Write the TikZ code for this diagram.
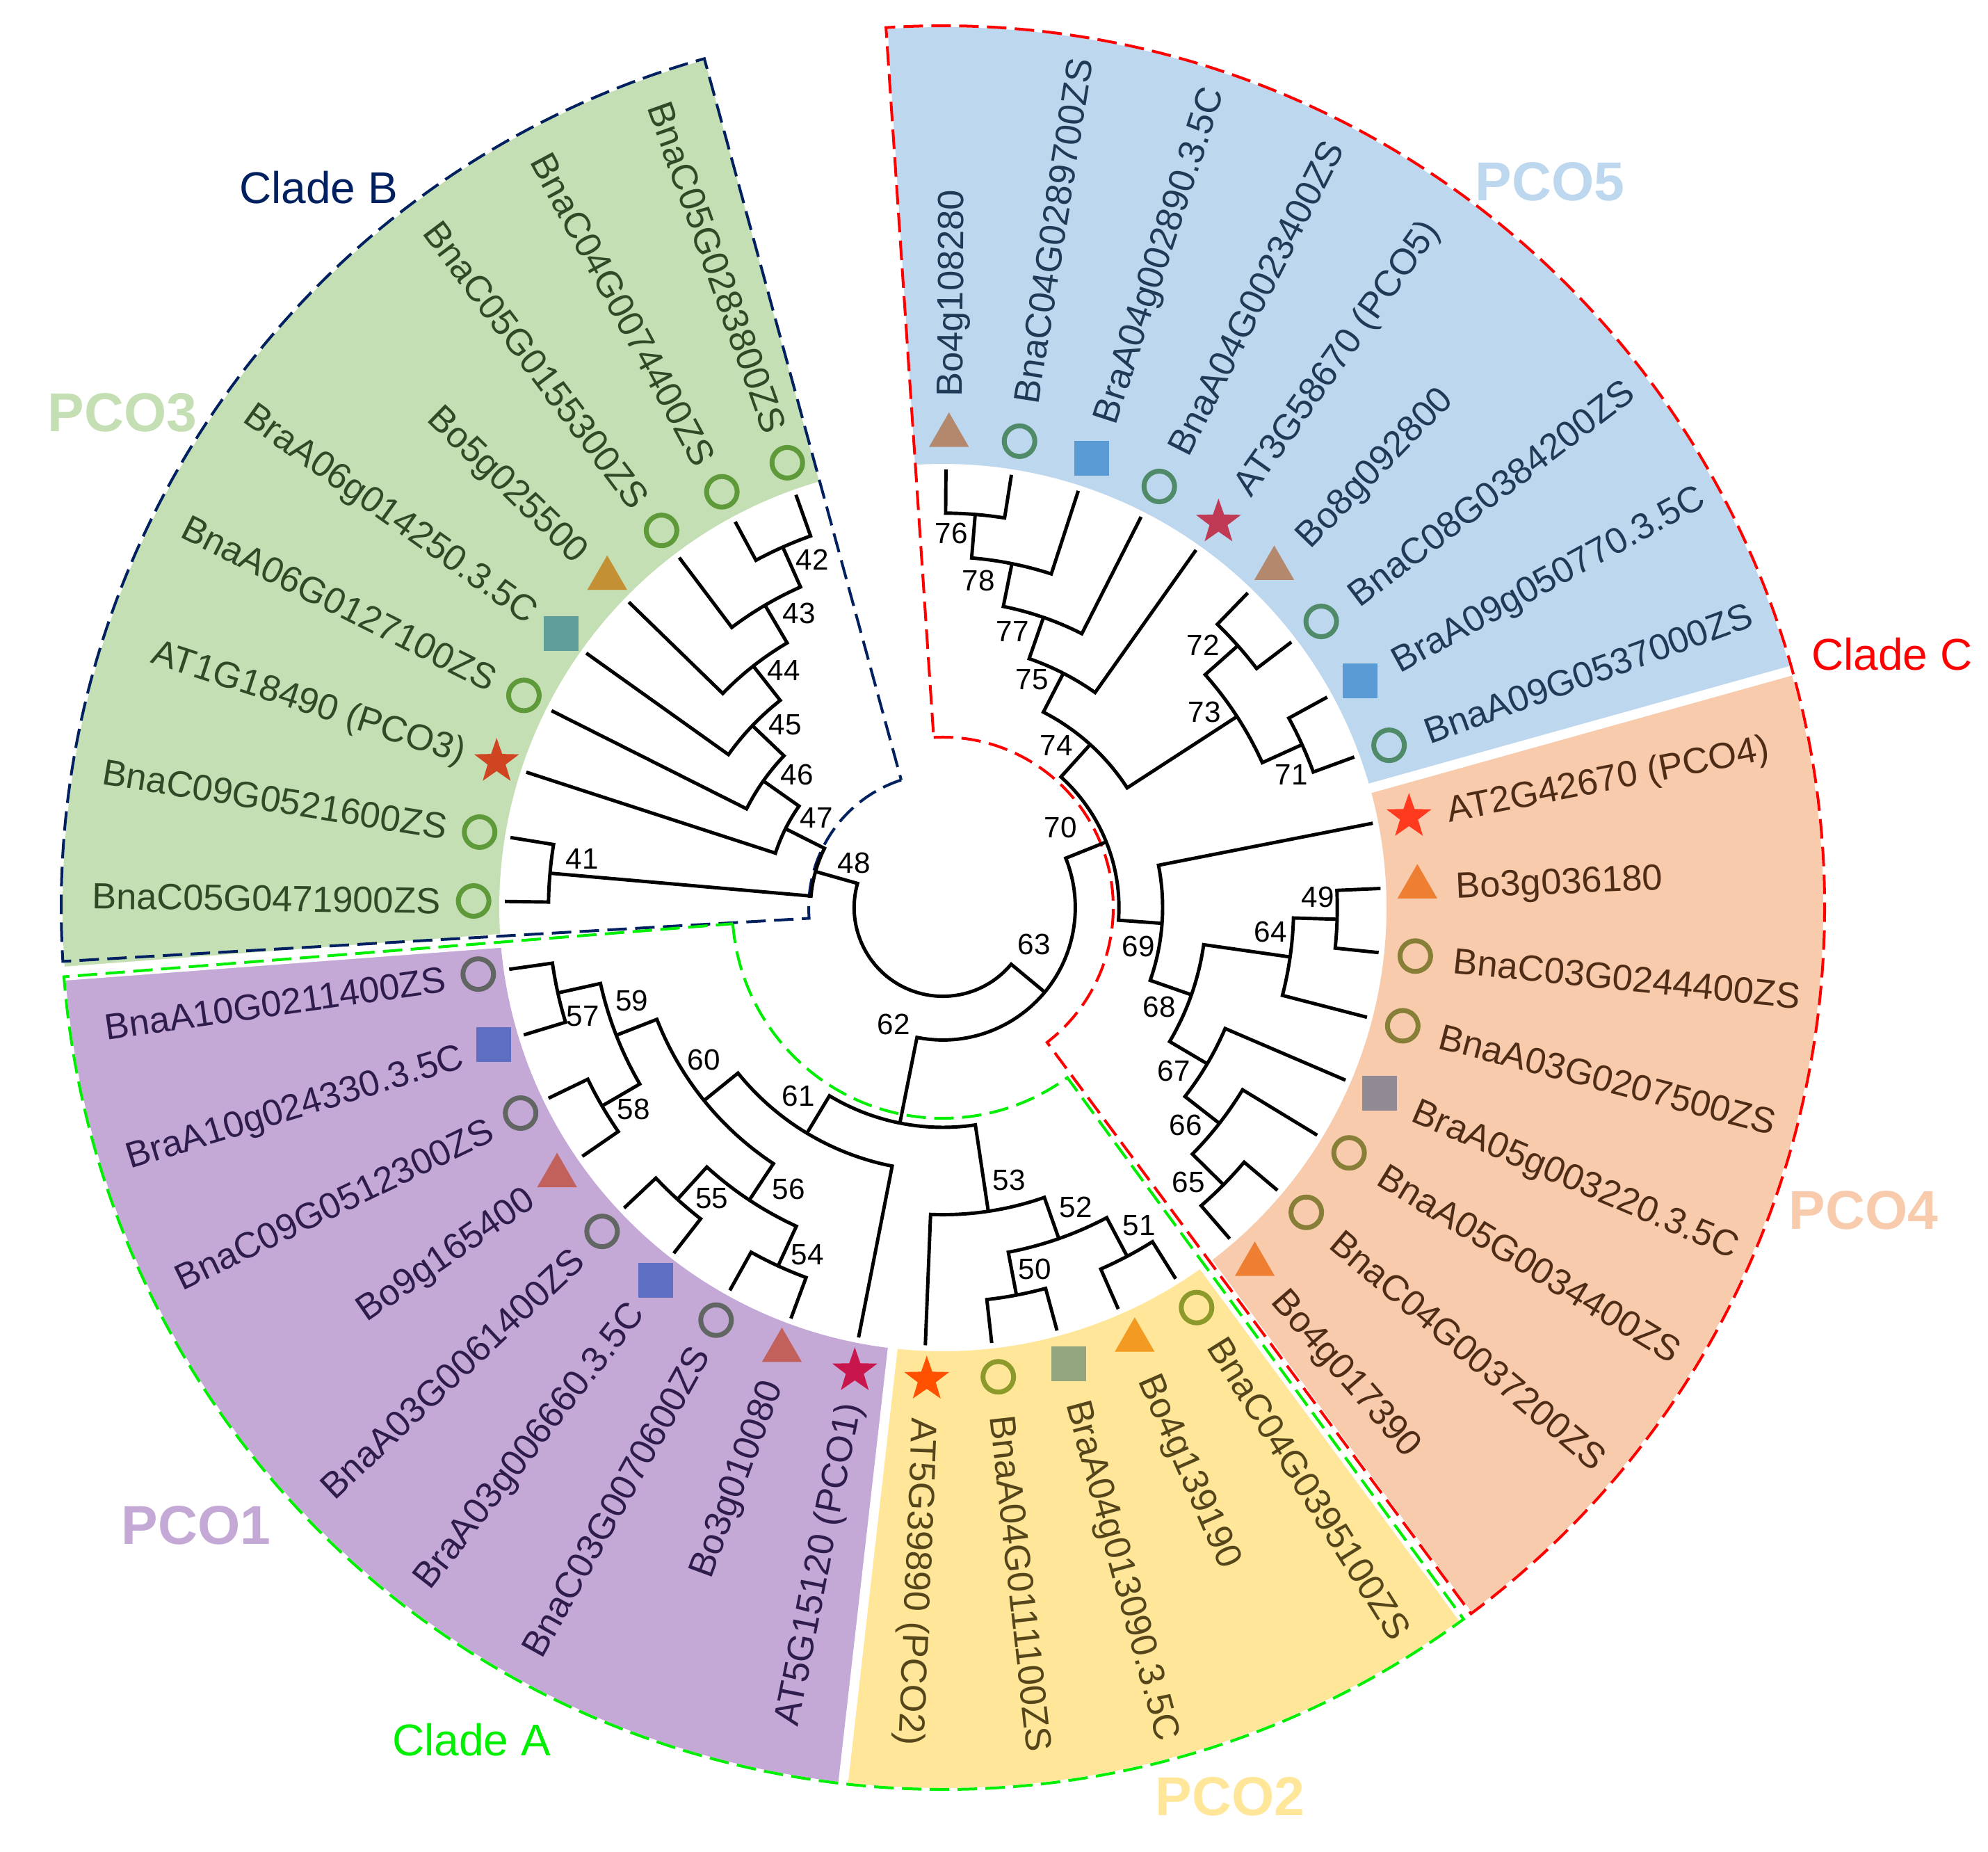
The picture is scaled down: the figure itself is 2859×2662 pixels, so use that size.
\documentclass[tikz,border=0pt]{standalone}
\usepackage{fontspec}
\setmainfont{Liberation Sans}
\usetikzlibrary{shapes.geometric}

% sector, label and marker colours
\definecolor{bandone}{HTML}{C4A9D7}
\definecolor{bandtwo}{HTML}{FFE699}
\definecolor{bandthree}{HTML}{C5DFB4}
\definecolor{bandfour}{HTML}{F8CBAD}
\definecolor{bandfive}{HTML}{BDD7EE}
\definecolor{textone}{HTML}{2E1C4D}
\definecolor{texttwo}{HTML}{55451A}
\definecolor{textthree}{HTML}{2F4A27}
\definecolor{textfour}{HTML}{4E2C15}
\definecolor{textfive}{HTML}{1E3A56}
\definecolor{ringone}{HTML}{626662}
\definecolor{ringtwo}{HTML}{8C9A2C}
\definecolor{ringthree}{HTML}{5E9A3A}
\definecolor{ringfour}{HTML}{877F37}
\definecolor{ringfive}{HTML}{4F8A69}
\definecolor{boxone}{HTML}{5E6EC2}
\definecolor{boxtwo}{HTML}{94A680}
\definecolor{boxthree}{HTML}{5F9E9A}
\definecolor{boxfour}{HTML}{8F8A93}
\definecolor{boxfive}{HTML}{5B9BD5}
\definecolor{trione}{HTML}{C2615C}
\definecolor{tritwo}{HTML}{F29A22}
\definecolor{trithree}{HTML}{C39033}
\definecolor{trifour}{HTML}{EE7E32}
\definecolor{trifive}{HTML}{B3886D}
\definecolor{starone}{HTML}{C8154B}
\definecolor{startwo}{HTML}{FF5100}
\definecolor{starthree}{HTML}{CF4521}
\definecolor{starfour}{HTML}{FF3A1F}
\definecolor{starfive}{HTML}{C03A55}
\definecolor{cladeB}{HTML}{002060}
\definecolor{cladeC}{HTML}{FF0000}
\definecolor{cladeA}{HTML}{00EE00}

\tikzset{
  branch/.style={line width=1.4pt, line join=miter},
  ring/.style={circle, draw=#1, line width=0.07cm, minimum size=0.44cm, inner sep=0pt},
  box/.style={rectangle, fill=#1, minimum size=0.5cm, inner sep=0pt},
  tri/.style={regular polygon, regular polygon sides=3, fill=#1, minimum size=0.66cm, inner sep=0pt},
  starmark/.style={star, star points=5, star point ratio=2.5, fill=#1, minimum size=0.68cm, inner sep=0pt},
  leaf/.style={font=\fontsize{14.9}{17}\selectfont, inner sep=0pt, text height=10.7pt, text depth=0pt},
  num/.style={font=\fontsize{12}{14}\selectfont, inner sep=0pt, text height=8.6pt, text depth=0pt},
  pcolabel/.style={font=\fontsize{22.4}{26}\selectfont\bfseries, inner sep=0pt, text height=16pt, text depth=0pt},
  cladelabel/.style={font=\fontsize{18.2}{21}\selectfont, inner sep=0pt, text height=13pt, text depth=0pt},
  cladeline/.style={dash pattern=on 0.28cm off 0.12cm, line width=0.04cm}
}

% internal node: child 1 stem, arc, child 2 stem
\newcommand{\clade}[5]{%
  \draw[branch] (#2:#3) -- (#2:#1) arc[start angle=#2, end angle=#4, radius=#1] -- (#4:#5);}
% coloured sector behind the leaf labels
\newcommand{\band}[3]{%
  \fill[#1] (#2:638) arc[start angle=#2, end angle=#3, radius=638]
    -- (#3:1266) arc[start angle=#3, end angle=#2, radius=1266] -- cycle;}
% leaf marker and label, read outwards / inwards
\newcommand{\leafR}[5]{%
  \node[#3] (m#1) at ([xshift=0.04cm]#2:679) {};
  \node[leaf, text=#4, anchor=west, rotate=#2] (t#1) at ([xshift=0.04cm]#2:734) {#5};}
\newcommand{\leafL}[5]{%
  \node[#3] (m#1) at ([xshift=0.04cm]#2:679) {};
  \node[leaf, text=#4, anchor=east, rotate=#2-180] (t#1) at ([xshift=0.04cm]#2:726) {#5};}

\begin{document}
\begin{tikzpicture}[x=0.01cm, y=0.01cm]
\useasboundingbox (0,0) rectangle (2859,2662);

\begin{scope}[shift={(1356,1357)}]
  % sectors
  \fill[bandthree] (106.2:638) arc[start angle=106.2, end angle=184.3, radius=638]
    -- (184.3:1266) arc[start angle=184.3, end angle=105.7, radius=1266] -- cycle;
  \band{bandone}{184.3}{263.5}
  \band{bandtwo}{263.5}{306.4}
  \band{bandfour}{306.4}{375.6}
  \band{bandfive}{375.6}{453.6}
  \draw[white, line width=0.2cm] (184.3:630) -- (184.3:1275);
  \draw[white, line width=0.14cm] (263.5:630) -- (263.5:1275);
  \draw[white, line width=0.22cm] (306.4:630) -- (306.4:1275);
  \draw[white, line width=0.14cm] (375.6:630) -- (375.6:1275);

  % clade outlines
  \draw[cladeline, cladeB] (108.1:193) arc[start angle=108.1, end angle=184.6, radius=193]
    -- (183.5:1268) arc[start angle=183.5, end angle=105.7, radius=1268] -- cycle;
  \draw[cladeline, cladeA] (184.4:303) arc[start angle=184.4, end angle=306.2, radius=303]
    -- (306.2:1268) arc[start angle=306.2, end angle=184.5, radius=1268] -- cycle;
  \draw[cladeline, cladeC] (93.1:245) arc[start angle=93.1, end angle=-52.3, radius=245]
    -- (306.8:1268) arc[start angle=-53.2, end angle=93.7, radius=1268] -- cycle;

  % tree, clade B
  \clade{567.2}{109.6}{630}{118.3}{630}        % 42
  \clade{504.4}{113.95}{567.2}{127.0}{630}     % 43
  \clade{441.6}{120.48}{504.4}{135.8}{630}     % 44
  \clade{378.8}{128.14}{441.6}{144.5}{630}     % 45
  \clade{316}{136.32}{378.8}{153.3}{630}       % 46
  \clade{253.2}{144.81}{316}{162.0}{630}       % 47
  \clade{567.2}{170.8}{630}{179.2}{630}        % 41
  \clade{190.4}{153.41}{253.2}{175.0}{567.2}   % 48
  % clade A
  \clade{567.2}{188.1}{630}{196.9}{630}        % 57
  \clade{567.2}{205.8}{630}{214.6}{630}        % 58
  \clade{504.4}{192.5}{567.2}{210.2}{567.2}    % 59
  \clade{567.2}{223.3}{630}{232.1}{630}        % 55
  \clade{567.2}{240.9}{630}{249.7}{630}        % 54
  \clade{504.4}{227.7}{567.2}{245.3}{567.2}    % 56
  \clade{441.6}{201.35}{504.4}{236.5}{504.4}   % 60
  \clade{378.8}{218.93}{441.6}{258.9}{630}     % 61
  \clade{567.2}{276.4}{630}{285.1}{630}        % 50
  \clade{567.2}{293.6}{630}{302.1}{630}        % 51
  \clade{504.4}{280.75}{567.2}{297.85}{567.2}  % 52
  \clade{441.6}{267.7}{630}{289.3}{504.4}      % 53
  \clade{316}{238.92}{378.8}{278.5}{441.6}     % 62
  % clade C
  \clade{567.2}{310.9}{630}{319.8}{630}        % 65
  \clade{504.4}{315.35}{567.2}{328.7}{630}     % 66
  \clade{441.6}{322.03}{504.4}{336.8}{630}     % 67
  \clade{567.2}{354.1}{630}{362.5}{630}        % 49
  \clade{504.4}{345.5}{630}{358.3}{567.2}      % 64
  \clade{378.8}{329.42}{441.6}{351.9}{504.4}   % 68
  \clade{316}{340.66}{378.8}{371.1}{630}       % 69
  \clade{567.2}{380.1}{630}{388.7}{630}        % 71
  \clade{567.2}{397.3}{630}{405.9}{630}        % 72
  \clade{504.4}{384.4}{567.2}{401.6}{567.2}    % 73
  \clade{567.2}{441.0}{630}{449.6}{630}        % 76
  \clade{504.4}{432.0}{630}{445.3}{567.2}      % 78
  \clade{441.6}{423.1}{630}{438.65}{504.4}     % 77
  \clade{378.8}{414.7}{630}{430.88}{441.6}     % 75
  \clade{316}{393.0}{504.4}{422.79}{378.8}     % 74
  \clade{253.2}{355.88}{316}{407.9}{316}       % 70
  % root
  \clade{190.4}{258.71}{316}{381.89}{253.2}    % 63
  \clade{127.6}{164.21}{190.4}{320.3}{190.4}

  % PCO3
  \leafL{0}{109.6}{ring=ringthree}{textthree}{BnaC05G0283800ZS}
  \leafL{1}{118.3}{ring=ringthree}{textthree}{BnaC04G0074400ZS}
  \leafL{2}{127.0}{ring=ringthree}{textthree}{BnaC05G0155300ZS}
  \leafL{3}{135.8}{tri=trithree}{textthree}{Bo5g025500}
  \leafL{4}{144.5}{box=boxthree}{textthree}{BraA06g014250.3.5C}
  \leafL{5}{153.3}{ring=ringthree}{textthree}{BnaA06G0127100ZS}
  \leafL{6}{162.0}{starmark=starthree}{textthree}{AT1G18490 (PCO3)}
  \leafL{7}{170.8}{ring=ringthree}{textthree}{BnaC09G0521600ZS}
  \leafL{8}{179.2}{ring=ringthree}{textthree}{BnaC05G0471900ZS}
  % PCO1
  \leafL{9}{188.1}{ring=ringone}{textone}{BnaA10G0211400ZS}
  \leafL{10}{196.9}{box=boxone}{textone}{BraA10g024330.3.5C}
  \leafL{11}{205.8}{ring=ringone}{textone}{BnaC09G0512300ZS}
  \leafL{12}{214.6}{tri=trione}{textone}{Bo9g165400}
  \leafL{13}{223.3}{ring=ringone}{textone}{BnaA03G0061400ZS}
  \leafL{14}{232.1}{box=boxone}{textone}{BraA03g006660.3.5C}
  \leafL{15}{240.9}{ring=ringone}{textone}{BnaC03G0070600ZS}
  \leafL{16}{249.7}{tri=trione}{textone}{Bo3g010080}
  \leafL{17}{258.9}{starmark=starone}{textone}{AT5G15120 (PCO1)}
  % PCO2
  \leafR{18}{267.7}{starmark=startwo}{texttwo}{AT5G39890 (PCO2)}
  \leafR{19}{276.4}{ring=ringtwo}{texttwo}{BnaA04G0111100ZS}
  \leafR{20}{285.1}{box=boxtwo}{texttwo}{BraA04g013090.3.5C}
  \leafR{21}{293.6}{tri=tritwo}{texttwo}{Bo4g139190}
  \leafR{22}{302.1}{ring=ringtwo}{texttwo}{BnaC04G0395100ZS}
  % PCO4
  \leafR{23}{310.9}{tri=trifour}{textfour}{Bo4g017390}
  \leafR{24}{319.8}{ring=ringfour}{textfour}{BnaC04G0037200ZS}
  \leafR{25}{328.7}{ring=ringfour}{textfour}{BnaA05G0034400ZS}
  \leafR{26}{336.8}{box=boxfour}{textfour}{BraA05g003220.3.5C}
  \leafR{27}{345.5}{ring=ringfour}{textfour}{BnaA03G0207500ZS}
  \leafR{28}{354.1}{ring=ringfour}{textfour}{BnaC03G0244400ZS}
  \leafR{29}{362.5}{tri=trifour}{textfour}{Bo3g036180}
  \leafR{30}{371.1}{starmark=starfour}{textfour}{AT2G42670 (PCO4)}
  % PCO5
  \leafR{31}{380.1}{ring=ringfive}{textfive}{BnaA09G0537000ZS}
  \leafR{32}{388.7}{box=boxfive}{textfive}{BraA09g050770.3.5C}
  \leafR{33}{397.3}{ring=ringfive}{textfive}{BnaC08G0384200ZS}
  \leafR{34}{405.9}{tri=trifive}{textfive}{Bo8g092800}
  \leafR{35}{414.7}{starmark=starfive}{textfive}{AT3G58670 (PCO5)}
  \leafR{36}{423.1}{ring=ringfive}{textfive}{BnaA04G0023400ZS}
  \leafR{37}{432.0}{box=boxfive}{textfive}{BraA04g002890.3.5C}
  \leafR{38}{441.0}{ring=ringfive}{textfive}{BnaC04G0289700ZS}
  \leafR{39}{449.6}{tri=trifive}{textfive}{Bo4g108280}
\end{scope}

% node numbers
\node[num] (n41) at (837,1428) {41};
\node[num] (n42) at (1168,1858) {42};
\node[num] (n43) at (1149,1781) {43};
\node[num] (n44) at (1127,1699) {44};
\node[num] (n45) at (1129,1621) {45};
\node[num] (n46) at (1146,1549) {46};
\node[num] (n47) at (1174,1487) {47};
\node[num] (n48) at (1228,1422) {48};
\node[num] (n49) at (1895,1373) {49};
\node[num] (n50) at (1488,838) {50};
\node[num] (n51) at (1638,901) {51};
\node[num] (n52) at (1547,927) {52};
\node[num] (n53) at (1451,966) {53};
\node[num] (n54) at (1161,859) {54};
\node[num] (n55) at (1024,940) {55};
\node[num] (n56) at (1134,953) {56};
\node[num] (n57) at (838,1202) {57};
\node[num] (n58) at (911,1068) {58};
\node[num] (n59) at (909,1224) {59};
\node[num] (n60) at (1012,1139) {60};
\node[num] (n61) at (1148,1087) {61};
\node[num] (n62) at (1285,1190) {62};
\node[num] (n63) at (1487,1305) {63};
\node[num] (n64) at (1827,1323) {64};
\node[num] (n65) at (1709,963) {65};
\node[num] (n66) at (1705,1045) {66};
\node[num] (n67) at (1688,1123) {67};
\node[num] (n68) at (1667,1215) {68};
\node[num] (n69) at (1637,1302) {69};
\node[num] (n70) at (1525,1473) {70};
\node[num] (n71) at (1857,1549) {71};
\node[num] (n72) at (1730,1735) {72};
\node[num] (n73) at (1732,1639) {73};
\node[num] (n74) at (1519,1591) {74};
\node[num] (n75) at (1484,1686) {75};
\node[num] (n76) at (1368,1896) {76};
\node[num] (n77) at (1456,1755) {77};
\node[num] (n78) at (1407,1828) {78};

% group and clade names
\node[pcolabel, text=bandthree] (pco3) at (176,2070) {PCO3};
\node[pcolabel, text=bandfive] (pco5) at (2229,2402) {PCO5};
\node[pcolabel, text=bandfour] (pco4) at (2680,923) {PCO4};
\node[pcolabel, text=bandtwo] (pco2) at (1769,80) {PCO2};
\node[pcolabel, text=bandone] (pco1) at (282,470) {PCO1};
\node[cladelabel, text=cladeB] (cladeb) at (458,2392) {Clade B};
\node[cladelabel, text=cladeC] (cladec) at (2721,1721) {Clade C};
\node[cladelabel, text=cladeA] (cladea) at (678,160) {Clade A};
\end{tikzpicture}
\end{document}
